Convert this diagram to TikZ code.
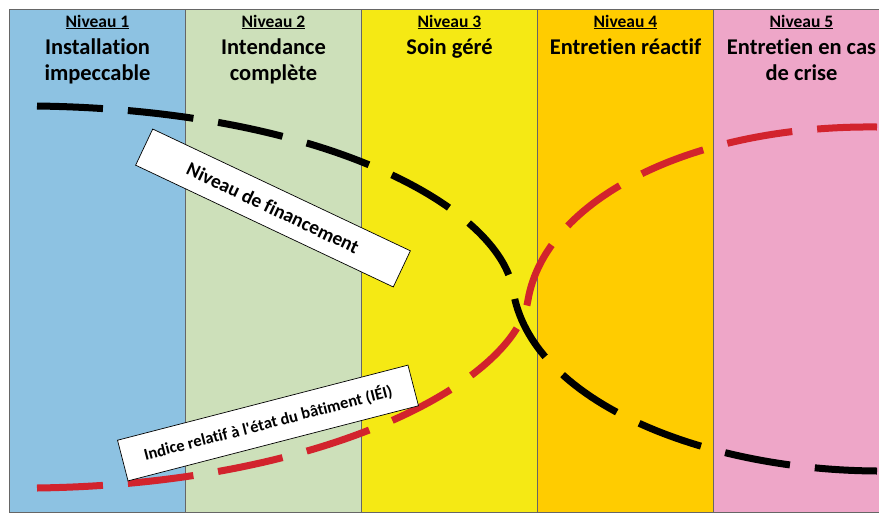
\documentclass[tikz,border=0pt]{standalone}
\usepackage{fontspec}
\setmainfont{Carlito}[Ligatures={TeX,NoCommon}]
\usepackage{tikz}
\definecolor{lvlA}{RGB}{141,194,226}
\definecolor{lvlB}{RGB}{205,224,186}
\definecolor{lvlC}{RGB}{245,233,20}
\definecolor{lvlD}{RGB}{255,204,0}
\definecolor{lvlE}{RGB}{238,166,200}
\definecolor{iei}{RGB}{210,35,45}
\tikzset{colbox/.style={draw=black!60, line width=0.8pt, minimum width=176pt, minimum height=503pt, inner sep=0pt}}
\tikzset{lvlhead/.style={anchor=base, inner sep=0pt, font=\fontsize{17.5}{20}\selectfont\bfseries}}
\tikzset{lvltitle/.style={anchor=base, inner sep=0pt, align=center, font=\fontsize{22.5}{26}\selectfont\bfseries}}
\tikzset{curveline/.style={line width=7pt, dash pattern=on 66pt off 25pt}}
\tikzset{labelbox/.style={draw, fill=white, line width=0.7pt, inner sep=0pt, font=\bfseries}}

\begin{document}
\begin{tikzpicture}[x=1pt, y=-1pt]

\useasboundingbox (0,0) rectangle (879,512);
\fill[white] (0,0) rectangle (879,512);
\clip (0,0) rectangle (879,512);

\node[colbox, fill=lvlA] (col1) at (97.5,260.5) {};
\node[colbox, fill=lvlB] (col2) at (273.5,260.5) {};
\node[colbox, fill=lvlC] (col3) at (449.5,260.5) {};
\node[colbox, fill=lvlD] (col4) at (625.5,260.5) {};
\node[colbox, fill=lvlE] (col5) at (801.5,260.5) {};

\node[lvlhead] (head1) at (97.5,27) {\underline{Niveau 1}};
\node[lvlhead] (head2) at (273.5,27) {\underline{Niveau 2}};
\node[lvlhead] (head3) at (449.5,27) {\underline{Niveau 3}};
\node[lvlhead] (head4) at (625.5,27) {\underline{Niveau 4}};
\node[lvlhead] (head5) at (801.5,27) {\underline{Niveau 5}};

% two-line titles sit on the baseline of their last line
\node[lvltitle] (title1) at (97.5,80) {Installation\\impeccable};
\node[lvltitle] (title2) at (273.5,80) {Intendance\\complète};
\node[lvltitle] (title3) at (449.5,54) {Soin géré};
\node[lvltitle] (title4) at (625.5,54) {Entretien réactif};
\node[lvltitle] (title5) at (801.5,80) {Entretien en cas\\de crise};

% financement (black) and IEI (red)
\draw[curveline, black] (37,106) .. controls (330,110) and (500,210) .. (513,290)
  .. controls (530,400) and (700,470) .. (877,471);
\draw[curveline, iei] (37,488) .. controls (330,484) and (515,380) .. (528,300)
  .. controls (545,200) and (690,125) .. (877,127);

\node[labelbox, rotate=-25.3, minimum width=285pt, minimum height=40pt, font=\fontsize{19.5}{22}\selectfont\bfseries] (fin) at (273,208) {Niveau de financement};
\node[labelbox, rotate=14.5, minimum width=300pt, minimum height=42pt, font=\fontsize{16.5}{19}\selectfont\bfseries] (ind) at (268,423) {Indice relatif à l\textquotesingle état du bâtiment (IÉI)};

\end{tikzpicture}
\end{document}
